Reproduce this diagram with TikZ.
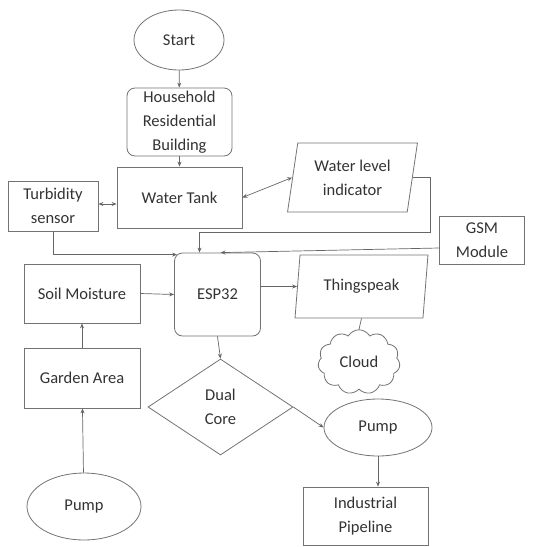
\documentclass[tikz,border=0pt]{standalone}
\usepackage{fontspec}
\setmainfont{Carlito}
\usetikzlibrary{arrows.meta,shapes.geometric,shapes.symbols}

\begin{document}
\begin{tikzpicture}[x=1pt, y=-1pt,
        every node/.style={font=\fontsize{16.5}{24}\selectfont, text=black!80, align=center, draw=black!55, line width=0.8pt, inner sep=1pt},
        box/.style={rectangle},
        rbox/.style={rectangle, rounded corners=8pt},
        oval/.style={ellipse},
        slanted/.style={trapezium, trapezium left angle=79, trapezium right angle=101, trapezium stretches=true},
        conn/.style={draw=black!60, line width=0.7pt, -{Stealth[length=5pt,width=4pt]}},
        link/.style={draw=black!60, line width=0.7pt}]
        \useasboundingbox (0,0) rectangle (533,547);

        \node[oval, minimum width=90, minimum height=60] (start) at (179,40) {Start};
        \node[rbox, minimum width=105, minimum height=68] (house) at (179.5,122) {Household\\Residential\\Building};
        \node[box, minimum width=125, minimum height=61] (tank) at (179.5,197.5) {Water Tank};
        \node[box, minimum width=90, minimum height=50] (turb) at (53,206) {Turbidity\\sensor};
        \node[slanted, minimum width=131, minimum height=69] (level) at (352.5,177.5) {Water level\\indicator};
        \node[box, minimum width=85, minimum height=48] (gsm) at (482,240) {GSM\\Module};
        \node[rbox, minimum width=86, minimum height=83] (esp) at (217.5,294.5) {ESP32};
        \node[box, minimum width=116, minimum height=59] (soil) at (82,293.5) {Soil Moisture};
        \node[slanted, minimum width=133, minimum height=63] (thing) at (361.5,286.5) {Thingspeak};
        \node[cloud, cloud puffs=11, cloud puff arc=120, minimum width=82, minimum height=60] (cloud) at (359,362) {Cloud};
        \node[diamond, inner sep=0pt, minimum width=145, minimum height=96] (dual) at (220.5,407) {Dual\\Core};
        \node[oval, minimum width=108, minimum height=57] (pumpb) at (378,427.5) {Pump};
        \node[box, minimum width=125, minimum height=58] (pipe) at (365.5,516) {Industrial\\Pipeline};
        \node[box, minimum width=116, minimum height=60] (garden) at (82,378) {Garden Area};
        \node[oval, minimum width=114, minimum height=67] (pumpa) at (84,506.5) {Pump};

        \draw[conn] (start) -- (house);
        \draw[conn] (house) -- (tank);
        \draw[conn, {Stealth[length=5pt,width=4pt]}-{Stealth[length=5pt,width=4pt]}] ([yshift=2pt]turb.east) -- ([yshift=2pt]turb.east -| tank.west);
        \draw[conn, {Stealth[length=5pt,width=4pt]}-{Stealth[length=5pt,width=4pt]}] (tank.east) -- (level.west);
        \draw[conn] (level.east) -| ++(18,55) -| ([xshift=-18pt]esp.north);
        \draw[conn] ([yshift=-8pt]gsm.west) -- ([xshift=3pt]esp.north);
        \draw[conn] (turb.south) |- ([xshift=3pt,yshift=-2pt]esp.north west);
        \draw[conn] (soil.east) -- (esp.west);
        \draw[conn] (esp.east |- thing.west) -- (thing.west);
        \draw[link] (thing.south) -- (cloud.north);
        \draw[conn] (esp.south) -- (dual.north);
        \draw[conn] (dual.east) -- (pumpb.west);
        \draw[conn] (pumpb.south) -- (pumpb.south |- pipe.north);
        \draw[conn] (garden) -- (soil);
        \draw[conn] (pumpa) -- (garden);

        \end{tikzpicture}
\end{document}
